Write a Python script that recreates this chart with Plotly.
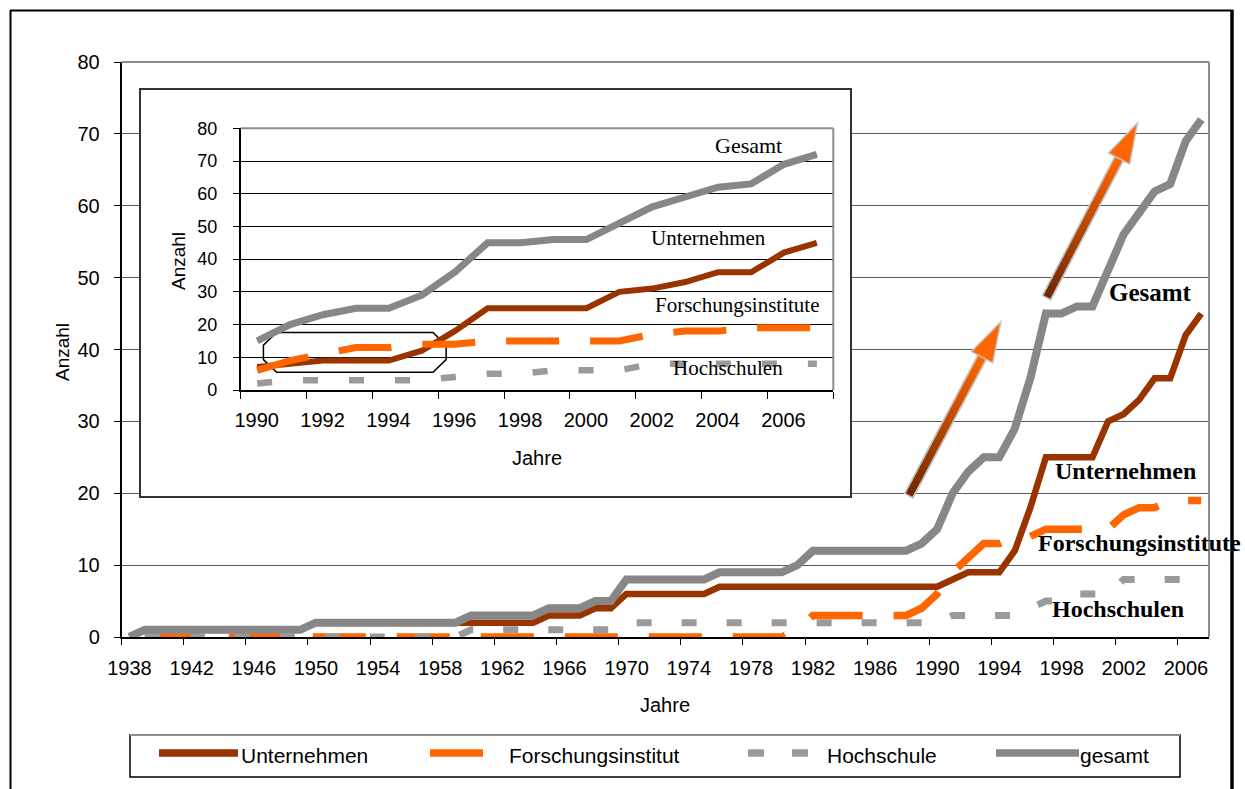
import math
import plotly.graph_objects as go

W, H = 1245, 789

# ---------------- data ----------------
years = list(range(1938, 2008))

gesamt = [
    0, 1, 1, 1, 1, 1, 1, 1, 1, 1,          # 1938-1947
    1, 1, 2, 2, 2, 2, 2, 2, 2, 2,          # 1948-1957
    2, 2, 3, 3, 3, 3, 3, 4, 4, 4,          # 1958-1967
    5, 5, 8, 8, 8, 8, 8, 8, 9, 9,          # 1968-1977
    9, 9, 9, 10, 12, 12, 12, 12, 12, 12,   # 1978-1987
    12, 13, 15, 20, 23, 25, 25, 29, 36, 45,  # 1988-1997
    45, 46, 46, 51, 56, 59, 62, 63, 69, 72,  # 1998-2007
]

unternehmen = [
    None, None, None, None, None, None, None, None, None, None,
    None, None, None, None, None, None, None, None, None, None,
    None, 2, 2, 2, 2, 2, 2, 3, 3, 3,
    4, 4, 6, 6, 6, 6, 6, 6, 7, 7,
    7, 7, 7, 7, 7, 7, 7, 7, 7, 7,
    7, 7, 7, 8, 9, 9, 9, 12, 18, 25,
    25, 25, 25, 30, 31, 33, 36, 36, 42, 45,
]

forschungsinstitut = [
    None, 0, 0, 0, 0, 0, 0, 0, 0, 0,
    0, 0, 0, 0, 0, 0, 0, 0, 0, 0,
    0, 0, 0, 0, 0, 0, 0, 0, 0, 0,
    0, 0, 0, 0, 0, 0, 0, 0, 0, 0,
    0, 0, 0, 1, 3, 3, 3, 3, 3, 3,
    3, 4, 6, 9, 11, 13, 13, 14, 14, 15,
    15, 15, 15, 15, 17, 18, 18, 19, 19, 19,
]

hochschule = [
    None, 0, 0, 0, 0, 0, 0, 0, 0, 0,
    0, 0, 0, 0, 0, 0, 0, 0, 0, 0,
    0, 0, 1, 1, 1, 1, 1, 1, 1, 1,
    1, 1, 2, 2, 2, 2, 2, 2, 2, 2,
    2, 2, 2, 2, 2, 2, 2, 2, 2, 2,
    2, 2, 2, 3, 3, 3, 3, 3, 4, 5,
    5, 6, 6, 6, 8, 8, 8, 8, 8, 8,
]

main_tick_labels = ["1938", "1942", "1946", "1950", "1954", "1958", "1962", "1966",
                    "1970", "1974", "1978", "1982", "1986", "1990", "1994", "1998",
                    "2002", "2006"]
inset_tick_labels = ["1990", "1992", "1994", "1996", "1998", "2000", "2002", "2004", "2006"]
value_ticks = [0, 10, 20, 30, 40, 50, 60, 70, 80]

INSET_START = 1990

# ---------------- geometry (pixels) ----------------
MAIN_L, MAIN_R, MAIN_T, MAIN_B = 121.5, 1209.0, 62.0, 637.0
BOX_L, BOX_R, BOX_T, BOX_B = 140.0, 851.0, 89.0, 497.0
INS_L, INS_R, INS_T, INS_B = 240.7, 833.3, 128.3, 390.0

X_MIN, X_MAX = years[0] - 0.5, years[-1] + 0.5
IX_MIN, IX_MAX = INSET_START - 0.5, years[-1] + 0.5
Y_MIN, Y_MAX = 0, 80


def fx(p):
    return p / W


def fy(p):
    return 1 - p / H


SANS = "Liberation Sans, Arial, sans-serif"
SERIF = "Liberation Serif, Times New Roman, serif"

BROWN = "#993300"
ORANGE = "#FF6600"
LIGHTGRAY = "#9a9a9a"
MIDGRAY = "#878787"

series = [
    ("Unternehmen", unternehmen,
     dict(color=BROWN, width=6.5), dict(color=BROWN, width=6)),
    ("Forschungsinstitut", forschungsinstitut,
     dict(color=ORANGE, width=7.5, dash="53px,31px"), dict(color=ORANGE, width=7, dash="53px,31px")),
    ("Hochschule", hochschule,
     dict(color=LIGHTGRAY, width=7, dash="15px,30px"), dict(color=LIGHTGRAY, width=6.5, dash="15px,31px")),
    ("gesamt", gesamt,
     dict(color=MIDGRAY, width=8), dict(color=MIDGRAY, width=7)),
]

fig = go.Figure()

# main chart
for name, vals, main_line, _ in series:
    fig.add_trace(go.Scatter(x=years, y=vals, mode="lines", name=name, line=main_line,
                             xaxis="x", yaxis="y", showlegend=False, hoverinfo="skip"))

# white panel behind the inset
fig.add_trace(go.Scatter(x=[0.5], y=[0.5], mode="markers", marker=dict(opacity=0),
                         xaxis="x2", yaxis="y2", showlegend=False, hoverinfo="skip"))

# inset chart (1990 onwards)
i0 = years.index(INSET_START)
for name, vals, _, inset_line in series:
    fig.add_trace(go.Scatter(x=years[i0:], y=vals[i0:], mode="lines", name=name, line=inset_line,
                             xaxis="x3", yaxis="y3", showlegend=False, hoverinfo="skip"))

main_cat_px = (MAIN_R - MAIN_L) / (X_MAX - X_MIN)
inset_cat_px = (INS_R - INS_L) / (IX_MAX - IX_MIN)

main_tickvals = [int(t) - 0.5 for t in main_tick_labels]
inset_tickvals = [int(t) - 0.5 for t in inset_tick_labels] + [IX_MAX]

fig.update_layout(
    width=W, height=H,
    margin=dict(l=0, r=0, t=0, b=0, pad=0, autoexpand=False),
    paper_bgcolor="white", plot_bgcolor="white",
    showlegend=False, hovermode=False,
    xaxis=dict(domain=[fx(MAIN_L), fx(MAIN_R)], range=[X_MIN, X_MAX], anchor="y",
               tickmode="array", tickvals=main_tickvals, ticktext=main_tick_labels,
               ticklabelshift=round(main_cat_px / 2), ticks="outside", ticklen=6, tickwidth=1.3,
               tickcolor="black", showline=True, linecolor="black", linewidth=1.5,
               showgrid=False, zeroline=False, ticklabelstandoff=6, automargin=False,
               tickfont=dict(family=SANS, size=20, color="black")),
    yaxis=dict(domain=[fy(MAIN_B), fy(MAIN_T)], range=[Y_MIN, Y_MAX], anchor="x",
               tickmode="array", tickvals=value_ticks, ticks="outside", ticklen=6,
               tickwidth=1.3, tickcolor="black", showline=True, linecolor="black",
               linewidth=1.5, showgrid=True, gridcolor="#5a5a5a", gridwidth=1,
               zeroline=False, ticklabelstandoff=10, automargin=False,
               tickfont=dict(family=SANS, size=20, color="black")),
    xaxis2=dict(domain=[fx(BOX_L), fx(BOX_R)], range=[0, 1], anchor="y2", visible=False),
    yaxis2=dict(domain=[fy(BOX_B), fy(BOX_T)], range=[0, 1], anchor="x2", visible=False),
    xaxis3=dict(domain=[fx(INS_L), fx(INS_R)], range=[IX_MIN, IX_MAX], anchor="y3",
                tickmode="array", tickvals=inset_tickvals, ticktext=inset_tick_labels + [""],
                ticklabelshift=round(inset_cat_px / 2), ticks="outside", ticklen=7, tickwidth=1.3,
                tickcolor="black", showline=True, linecolor="black", linewidth=1.5,
                showgrid=False, zeroline=False, ticklabelstandoff=4, automargin=False,
                tickfont=dict(family=SANS, size=20, color="black")),
    yaxis3=dict(domain=[fy(INS_B), fy(INS_T)], range=[Y_MIN, Y_MAX], anchor="x3",
                tickmode="array", tickvals=value_ticks, ticks="outside", ticklen=6,
                tickwidth=1.3, tickcolor="black", showline=True, linecolor="black",
                linewidth=1.5, showgrid=True, gridcolor="black", gridwidth=1,
                zeroline=False, ticklabelstandoff=12, automargin=False,
                tickfont=dict(family=SANS, size=18, color="black")),
)

shapes = []

# inset panel fill and frame
shapes.append(dict(type="rect", xref="x2", yref="y2", x0=0, x1=1, y0=0, y1=1,
                   fillcolor="white", line=dict(width=0), layer="below"))
shapes.append(dict(type="rect", xref="paper", yref="paper", x0=fx(BOX_L), x1=fx(BOX_R),
                   y0=fy(BOX_B), y1=fy(BOX_T), line=dict(color="#333333", width=2),
                   fillcolor="rgba(0,0,0,0)", layer="above"))

# gray plot-area borders (top and right) of both charts
for l, r, t, b in [(MAIN_L, MAIN_R, MAIN_T, MAIN_B), (INS_L, INS_R, INS_T, INS_B)]:
    shapes.append(dict(type="line", xref="paper", yref="paper", x0=fx(l), x1=fx(r),
                       y0=fy(t), y1=fy(t), line=dict(color="#8c8c8c", width=2), layer="above"))
    shapes.append(dict(type="line", xref="paper", yref="paper", x0=fx(r), x1=fx(r),
                       y0=fy(t), y1=fy(b), line=dict(color="#8c8c8c", width=2), layer="above"))

# highlight around the early-1990s values in the inset
HL_X0, HL_X1, HL_Y0, HL_Y1 = 1990.19, 1995.74, 5.4, 17.6
HL_CX, HL_CY = 0.4, 3.9
hl_path = (f"M {HL_X0 + HL_CX},{HL_Y1} L {HL_X1 - HL_CX},{HL_Y1} L {HL_X1},{HL_Y1 - HL_CY} "
           f"L {HL_X1},{HL_Y0 + HL_CY} L {HL_X1 - HL_CX},{HL_Y0} L {HL_X0 + HL_CX},{HL_Y0} "
           f"L {HL_X0},{HL_Y0 + HL_CY} L {HL_X0},{HL_Y1 - HL_CY} Z")
shapes.append(dict(type="path", xref="x3", yref="y3", path=hl_path,
                   line=dict(color="black", width=1.5), layer="below"))

# growth arrows on the main chart (gradient from brown to orange)
ARROWS = [((1988.2, 19.75), (1994.1, 43.85)), ((1997.07, 47.3), (2002.9, 71.5))]
sx = (MAIN_R - MAIN_L) / (X_MAX - X_MIN)
sy = (MAIN_B - MAIN_T) / (Y_MAX - Y_MIN)
TAIL_RGB, HEAD_RGB = (110, 40, 0), (255, 102, 0)
HEAD_LEN, HEAD_HALF, N_SEG = 40, 12, 30
for tail, tip in ARROWS:
    dx, dy = (tip[0] - tail[0]) * sx, (tip[1] - tail[1]) * sy
    L = math.hypot(dx, dy)
    ux, uy = dx / L, dy / L
    nx, ny = -uy, ux

    def to_data(px_, py_, tail=tail):
        return tail[0] + px_ / sx, tail[1] + py_ / sy

    bx, by = dx - ux * HEAD_LEN, dy - uy * HEAD_LEN
    s0 = to_data(-ux * 1.5, -uy * 1.5)
    b_end = to_data(bx + ux * 2, by + uy * 2)
    shapes.append(dict(type="line", xref="x", yref="y", x0=s0[0], y0=s0[1], x1=b_end[0],
                       y1=b_end[1], line=dict(color="#c4c4c4", width=11), layer="above"))
    for i in range(N_SEG):
        t0, t1 = i / N_SEG, (i + 1) / N_SEG
        tm = (t0 + t1) / 2
        rgb = tuple(round(a + (b - a) * tm) for a, b in zip(TAIL_RGB, HEAD_RGB))
        p0 = to_data(bx * t0, by * t0)
        p1 = to_data(bx * t1 + ux * 1, by * t1 + uy * 1)
        shapes.append(dict(type="line", xref="x", yref="y", x0=p0[0], y0=p0[1], x1=p1[0],
                           y1=p1[1], line=dict(color=f"rgb{rgb}", width=7.5), layer="above"))
    c1 = to_data(bx + nx * HEAD_HALF, by + ny * HEAD_HALF)
    c2 = to_data(bx - nx * HEAD_HALF, by - ny * HEAD_HALF)
    head = f"M {tip[0]},{tip[1]} L {c1[0]},{c1[1]} L {c2[0]},{c2[1]} Z"
    shapes.append(dict(type="path", xref="x", yref="y", path=head, fillcolor=ORANGE,
                       line=dict(color="#c4c4c4", width=1.5), layer="above"))

# legend box
LEG_L, LEG_R, LEG_T, LEG_B = 130, 1180, 735, 777
shapes.append(dict(type="rect", xref="paper", yref="paper", x0=fx(LEG_L), x1=fx(LEG_R),
                   y0=fy(LEG_B), y1=fy(LEG_T), line=dict(color="black", width=1.5),
                   fillcolor="white", layer="above"))
shapes.append(dict(type="line", xref="paper", yref="paper", x0=fx(LEG_L), x1=fx(LEG_R),
                   y0=fy(LEG_T), y1=fy(LEG_T), line=dict(color="#8c8c8c", width=2), layer="above"))

LEG_Y = 753
legend_items = [
    # name, sample start, sample end, text start
    ("Unternehmen", 159, 238, 239),
    ("Forschungsinstitut", 430, 483, 507),
    ("Hochschule", 748, 810, 825),
    ("gesamt", 996, 1079, 1078),
]
legend_styles = {name: main_line for name, _, main_line, _ in series}
annotations = []
for name, s0, s1, tx in legend_items:
    st = legend_styles[name]
    dash = st.get("dash", "solid")
    if name == "Forschungsinstitut":
        dash = "solid"
    if name == "Hochschule":
        dash = "16px,28px"
    shapes.append(dict(type="line", xref="paper", yref="paper", x0=fx(s0), x1=fx(s1),
                       y0=fy(LEG_Y), y1=fy(LEG_Y),
                       line=dict(color=st["color"], width=7.5, dash=dash), layer="above"))
    annotations.append(dict(xref="paper", yref="paper", x=fx(tx), y=fy(LEG_Y + 2),
                            text=name, showarrow=False, xanchor="left", yanchor="middle",
                            font=dict(family=SANS, size=21, color="black")))

# outer frame
shapes.append(dict(type="line", xref="paper", yref="paper", x0=fx(10.5), x1=fx(10.5),
                   y0=fy(10), y1=0, line=dict(color="black", width=2), layer="above"))
shapes.append(dict(type="line", xref="paper", yref="paper", x0=fx(10), x1=fx(1233),
                   y0=fy(10.5), y1=fy(10.5), line=dict(color="black", width=2), layer="above"))
shapes.append(dict(type="line", xref="paper", yref="paper", x0=fx(1232), x1=fx(1232),
                   y0=fy(10), y1=0, line=dict(color="black", width=3.5), layer="above"))

# axis titles
titles = [
    ("Jahre", 665, 705, 0, 20),
    ("Anzahl", 62, 352, -90, 19),
    ("Jahre", 536.5, 458, 0, 20),
    ("Anzahl", 178, 261, -90, 19),
]
for text, x, y, ang, size in titles:
    annotations.append(dict(xref="paper", yref="paper", x=fx(x), y=fy(y), text=text,
                            showarrow=False, xanchor="center", yanchor="middle", textangle=ang,
                            font=dict(family=SANS, size=size, color="black")))

# series labels
main_labels = [
    ("Gesamt", 1150, 292, 25),
    ("Unternehmen", 1125, 471, 24),
    ("Forschungsinstitute", 1139, 543, 24),
    ("Hochschulen", 1118, 609, 24),
]
for text, x, y, size in main_labels:
    annotations.append(dict(xref="paper", yref="paper", x=fx(x), y=fy(y), text=f"<b>{text}</b>",
                            showarrow=False, xanchor="center", yanchor="middle",
                            font=dict(family=SERIF, size=size, color="black")))

inset_labels = [
    ("Gesamt", 748, 145, 22),
    ("Unternehmen", 708, 238, 21),
    ("Forschungsinstitute", 737.5, 305.5, 21),
    ("Hochschulen", 727.5, 368, 21),
]
for text, x, y, size in inset_labels:
    annotations.append(dict(xref="paper", yref="paper", x=fx(x), y=fy(y), text=text,
                            showarrow=False, xanchor="center", yanchor="middle",
                            font=dict(family=SERIF, size=size, color="black")))

fig.update_layout(shapes=shapes, annotations=annotations)
fig.write_html("out.html")
